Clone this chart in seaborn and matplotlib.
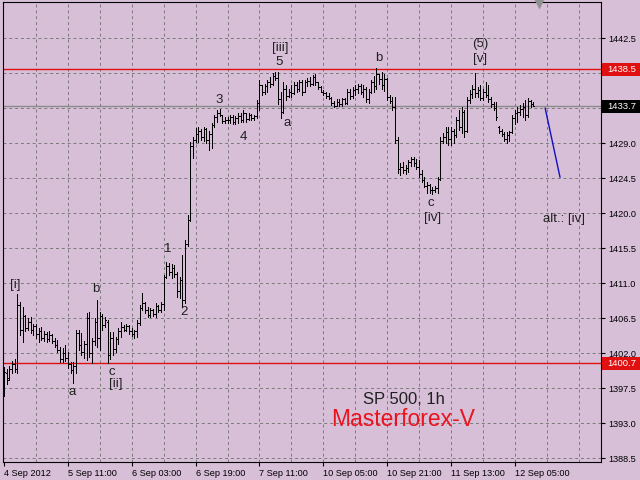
import matplotlib
matplotlib.use("Agg")
import matplotlib.pyplot as plt
import matplotlib.transforms as mtransforms
from matplotlib.patches import Rectangle
import pandas as pd
import seaborn as sns

# hourly OHLC bars, SP 500, 4-12 Sep 2012
bar_open = [
    1397.0, 1399.5, 1398.8, 1400.0, 1400.6, 1400.0, 1408.2, 1405.0, 1406.8, 1405.2,
    1406.0, 1405.0, 1405.5, 1404.4, 1404.8, 1404.0, 1404.5, 1403.8, 1404.3, 1403.6,
    1403.0, 1402.4, 1401.2, 1402.0, 1401.4, 1400.6, 1399.8, 1400.3, 1404.6, 1403.0,
    1402.2, 1403.2, 1406.5, 1402.0, 1403.6, 1406.0, 1404.0, 1406.8, 1405.6, 1406.0,
    1401.8, 1404.0, 1402.5, 1403.8, 1404.8, 1405.4, 1405.0, 1405.5, 1404.8, 1404.5,
    1404.8, 1405.9, 1407.8, 1408.4, 1407.6, 1406.9, 1407.5, 1407.0, 1408.0, 1407.6,
    1408.3, 1411.8, 1413.2, 1412.4, 1413.0, 1412.2, 1410.0, 1411.4, 1408.8, 1416.0,
    1419.1, 1428.6, 1429.4, 1430.2, 1430.6, 1429.8, 1430.8, 1429.4, 1430.2, 1431.3,
    1432.3, 1432.9, 1432.6, 1431.8, 1432.0, 1431.9, 1432.3, 1431.7, 1432.2, 1432.5,
    1432.0, 1432.8, 1432.1, 1432.6, 1432.2, 1432.5, 1434.2, 1436.4, 1435.6, 1436.3,
    1436.8, 1436.6, 1437.6, 1437.4, 1434.6, 1433.0, 1436.0, 1435.0, 1435.6, 1435.4,
    1436.4, 1435.9, 1436.8, 1435.6, 1436.8, 1437.0, 1436.6, 1437.5, 1436.8, 1436.2,
    1435.6, 1435.4, 1435.0, 1434.8, 1434.1, 1433.8, 1434.3, 1434.0, 1434.6, 1434.2,
    1435.6, 1435.0, 1435.8, 1436.0, 1436.3, 1435.6, 1436.0, 1434.7, 1435.6, 1436.8,
    1436.3, 1437.9, 1437.2, 1436.5, 1437.2, 1434.9, 1434.4, 1433.6, 1429.4, 1425.6,
    1425.9, 1425.5, 1425.8, 1426.5, 1426.9, 1426.4, 1425.9, 1425.0, 1424.3, 1423.5,
    1423.6, 1423.0, 1422.9, 1423.2, 1424.4, 1429.2, 1429.8, 1430.4, 1429.5, 1430.6,
    1430.0, 1432.0, 1431.0, 1433.0, 1430.5, 1434.5, 1435.3, 1436.0, 1435.4, 1435.8,
    1434.8, 1435.6, 1435.2, 1434.6, 1434.0, 1433.5, 1431.1, 1430.6, 1430.2, 1429.5,
    1430.0, 1430.4, 1432.2, 1432.8, 1433.0, 1433.4, 1433.6, 1432.6, 1434.4, 1434.0,
]
bar_high = [
    1400.2, 1399.9, 1400.4, 1401.0, 1401.3, 1409.6, 1408.6, 1407.9, 1406.9, 1406.5,
    1406.6, 1405.8, 1405.7, 1405.2, 1405.3, 1404.8, 1404.7, 1404.8, 1404.4, 1403.9,
    1403.7, 1402.8, 1402.6, 1403.0, 1402.2, 1400.9, 1400.8, 1405.0, 1405.0, 1404.6,
    1403.5, 1407.2, 1407.3, 1404.0, 1406.5, 1408.8, 1407.3, 1407.0, 1406.6, 1406.2,
    1404.7, 1404.7, 1404.1, 1405.2, 1406.0, 1405.6, 1405.8, 1405.6, 1405.2, 1405.0,
    1406.2, 1408.2, 1409.7, 1408.6, 1407.9, 1407.8, 1407.7, 1408.4, 1408.2, 1408.6,
    1412.0, 1413.7, 1413.6, 1413.5, 1413.3, 1412.4, 1411.8, 1414.6, 1416.5, 1419.8,
    1429.1, 1429.8, 1430.9, 1431.1, 1430.8, 1431.1, 1430.9, 1430.6, 1431.6, 1432.6,
    1433.2, 1433.4, 1432.6, 1432.3, 1432.4, 1432.6, 1432.6, 1432.5, 1432.8, 1432.9,
    1433.2, 1432.9, 1432.8, 1432.7, 1432.6, 1434.5, 1437.1, 1436.5, 1436.6, 1437.1,
    1437.5, 1438.0, 1438.1, 1438.1, 1435.6, 1436.8, 1436.4, 1436.0, 1436.4, 1436.8,
    1436.9, 1437.1, 1437.1, 1437.1, 1437.4, 1437.5, 1437.8, 1437.9, 1436.9, 1436.3,
    1435.8, 1435.5, 1435.4, 1434.9, 1434.4, 1434.6, 1434.7, 1434.8, 1434.8, 1436.0,
    1436.0, 1436.2, 1436.4, 1436.6, 1436.6, 1436.4, 1436.2, 1436.0, 1437.1, 1437.6,
    1438.6, 1437.9, 1438.1, 1437.9, 1437.4, 1435.2, 1434.9, 1434.9, 1429.8, 1426.4,
    1426.6, 1426.2, 1426.8, 1427.2, 1427.2, 1427.0, 1426.8, 1425.5, 1424.6, 1424.0,
    1423.7, 1423.4, 1423.5, 1424.6, 1429.8, 1430.3, 1431.1, 1431.1, 1431.0, 1430.8,
    1432.3, 1433.2, 1433.6, 1433.2, 1434.9, 1435.8, 1436.4, 1438.0, 1436.2, 1436.4,
    1436.0, 1436.8, 1436.4, 1434.9, 1434.3, 1434.3, 1431.2, 1430.8, 1430.4, 1430.4,
    1430.6, 1432.6, 1433.2, 1433.6, 1433.9, 1434.1, 1434.5, 1434.8, 1434.5, 1434.3,
]
bar_low = [
    1396.5, 1398.0, 1398.6, 1399.5, 1399.6, 1399.4, 1404.3, 1403.4, 1404.8, 1405.0,
    1404.6, 1404.3, 1404.0, 1403.4, 1403.7, 1403.5, 1403.4, 1403.6, 1403.3, 1402.8,
    1402.1, 1400.8, 1400.9, 1401.0, 1400.1, 1399.4, 1398.1, 1399.4, 1402.4, 1401.8,
    1401.4, 1401.1, 1401.5, 1400.7, 1403.0, 1402.8, 1402.4, 1405.0, 1405.3, 1400.7,
    1401.2, 1401.7, 1402.1, 1403.2, 1404.1, 1404.8, 1404.8, 1404.5, 1404.2, 1404.0,
    1404.1, 1405.6, 1407.5, 1407.2, 1406.6, 1406.6, 1406.8, 1406.6, 1407.3, 1407.3,
    1407.5, 1411.6, 1412.0, 1411.6, 1411.8, 1409.2, 1409.1, 1407.9, 1408.5, 1415.8,
    1419.0, 1427.1, 1429.1, 1429.1, 1429.4, 1429.2, 1429.0, 1428.1, 1428.3, 1431.1,
    1431.7, 1432.5, 1431.6, 1431.6, 1431.6, 1431.6, 1431.4, 1431.5, 1431.6, 1431.7,
    1431.7, 1431.7, 1431.9, 1431.9, 1431.9, 1432.2, 1433.2, 1435.2, 1435.3, 1435.6,
    1436.2, 1436.5, 1437.1, 1434.0, 1432.2, 1432.9, 1434.5, 1434.9, 1434.9, 1435.3,
    1435.6, 1435.7, 1435.2, 1435.5, 1436.3, 1436.3, 1436.5, 1436.5, 1436.0, 1435.5,
    1435.2, 1434.8, 1434.6, 1433.9, 1433.6, 1433.7, 1433.8, 1433.8, 1434.0, 1434.0,
    1434.6, 1434.8, 1435.2, 1435.4, 1435.3, 1434.9, 1434.3, 1434.2, 1435.4, 1435.6,
    1436.0, 1436.6, 1435.9, 1435.7, 1434.5, 1434.1, 1433.3, 1429.0, 1425.1, 1424.9,
    1425.1, 1425.0, 1425.3, 1426.0, 1426.1, 1425.6, 1424.6, 1424.0, 1423.3, 1422.6,
    1422.6, 1422.5, 1422.7, 1422.6, 1424.3, 1429.0, 1429.0, 1428.8, 1428.8, 1429.0,
    1429.8, 1430.7, 1430.3, 1429.8, 1430.4, 1434.1, 1434.8, 1434.9, 1434.9, 1434.5,
    1434.5, 1434.9, 1434.3, 1433.6, 1433.2, 1432.0, 1430.3, 1429.9, 1429.2, 1429.0,
    1429.2, 1430.3, 1431.5, 1431.7, 1432.6, 1432.3, 1432.0, 1432.4, 1433.6, 1433.7,
]
bar_close = [
    1399.6, 1398.6, 1400.0, 1400.6, 1400.0, 1408.2, 1405.0, 1406.8, 1405.2, 1406.0,
    1405.0, 1405.5, 1404.4, 1404.8, 1404.0, 1404.5, 1403.8, 1404.3, 1403.6, 1403.0,
    1402.4, 1401.2, 1402.0, 1401.4, 1400.6, 1399.8, 1400.3, 1404.6, 1403.0, 1402.2,
    1403.2, 1406.5, 1402.0, 1403.6, 1406.0, 1404.0, 1406.8, 1405.6, 1406.2, 1401.8,
    1404.0, 1402.5, 1403.8, 1404.8, 1405.4, 1405.0, 1405.5, 1404.8, 1404.5, 1404.8,
    1405.9, 1407.8, 1408.4, 1407.6, 1406.9, 1407.5, 1407.0, 1408.0, 1407.6, 1408.3,
    1411.8, 1413.2, 1412.4, 1413.0, 1412.2, 1410.0, 1411.4, 1408.8, 1416.0, 1419.1,
    1428.6, 1429.4, 1430.2, 1430.6, 1429.8, 1430.8, 1429.4, 1430.2, 1431.3, 1432.3,
    1432.9, 1432.6, 1431.8, 1432.0, 1431.9, 1432.3, 1431.7, 1432.2, 1432.5, 1432.0,
    1432.8, 1432.1, 1432.6, 1432.2, 1432.5, 1434.2, 1436.4, 1435.6, 1436.3, 1436.8,
    1436.6, 1437.6, 1437.4, 1434.6, 1433.0, 1436.0, 1435.0, 1435.6, 1435.4, 1436.4,
    1435.9, 1436.8, 1435.6, 1436.8, 1437.0, 1436.6, 1437.5, 1436.8, 1436.2, 1435.6,
    1435.4, 1435.0, 1434.8, 1434.1, 1433.8, 1434.3, 1434.0, 1434.6, 1434.2, 1435.6,
    1435.0, 1435.8, 1436.0, 1436.3, 1435.6, 1436.0, 1434.7, 1435.6, 1436.8, 1436.3,
    1437.9, 1437.2, 1436.5, 1437.2, 1434.9, 1434.4, 1433.6, 1429.4, 1425.6, 1425.9,
    1425.5, 1425.8, 1426.5, 1426.9, 1426.4, 1425.9, 1425.0, 1424.3, 1423.5, 1423.6,
    1423.0, 1422.9, 1423.2, 1424.4, 1429.2, 1429.8, 1430.4, 1429.5, 1430.6, 1430.0,
    1432.0, 1431.0, 1433.0, 1430.5, 1434.5, 1435.3, 1436.0, 1435.4, 1435.8, 1434.8,
    1435.6, 1435.2, 1434.6, 1434.0, 1433.5, 1432.4, 1430.6, 1430.2, 1429.5, 1430.0,
    1430.4, 1432.2, 1432.8, 1433.0, 1433.4, 1433.6, 1432.6, 1434.4, 1434.0, 1433.7,
]

# time axis labels, one every 24 bars
date_labels = ["4 Sep 2012", "5 Sep 11:00", "6 Sep 03:00", "6 Sep 19:00", "7 Sep 11:00",
               "10 Sep 05:00", "10 Sep 21:00", "11 Sep 13:00", "12 Sep 05:00"]
label_step = 24

price_ticks = [1388.5, 1393.0, 1397.5, 1402.0, 1406.5, 1411.0, 1415.5,
               1420.0, 1424.5, 1429.0, 1433.5, 1438.0, 1442.5]

level_top = 1438.5
level_bottom = 1400.7
last_price = 1433.7

# elliott wave marks: text, bar position, price
wave_text = ["[i]", "a", "b", "c", "[ii]", "1", "2", "3", "4", "[iii]", "5", "a",
             "b", "c", "[iv]", "(5)", "[v]", "alt.: [iv]"]
wave_bar = [4.3, 25.6, 34.6, 40.6, 42.1, 61.7, 67.7, 80.8, 89.8, 103.8, 103.4, 106.4,
            141.0, 160.5, 160.9, 179.0, 179.0, 210.5]
wave_price = [1410.7, 1397.0, 1410.2, 1399.6, 1398.0, 1415.4, 1407.3, 1434.5, 1429.8,
              1441.2, 1439.4, 1431.6, 1439.9, 1421.3, 1419.4, 1441.7, 1439.8, 1419.2]

# projected move
proj_bar = [203.4, 209.0]
proj_price = [1433.5, 1424.6]

bg = "#D8BFD8"
sns.set_theme(style="ticks", rc={
    "axes.facecolor": bg, "figure.facecolor": bg,
    "axes.edgecolor": "black", "axes.linewidth": 0.8,
    "xtick.color": "black", "ytick.color": "black",
})
plt.rcParams["font.family"] = ["Liberation Sans", "DejaVu Sans"]

df = pd.DataFrame({"open": bar_open, "high": bar_high, "low": bar_low, "close": bar_close})
df["bar"] = range(len(df))

fig = plt.figure(figsize=(6.4, 4.8), dpi=100)
ax = fig.add_axes([3 / 640, 18 / 480, 598 / 640, 460 / 480])

ax.set_xlim(-0.4, 224.4)
ax.set_ylim(1388.0, 1447.13)

# dashed grid
for p in price_ticks:
    ax.axhline(p, color="#7a7a7a", lw=0.7, ls=(0, (3, 3)), zorder=1)
for b in range(12, 224, 12):
    ax.axvline(b, color="#7a7a7a", lw=0.7, ls=(0, (3, 3)), zorder=1)

# horizontal levels
ax.axhline(level_top, color="#e01010", lw=1.0, zorder=2)
ax.axhline(level_bottom, color="#e01010", lw=1.0, zorder=2)
ax.axhline(last_price, color="#8a8a8a", lw=1.0, zorder=2)

# OHLC bars
bar_lw = 0.72
ax.vlines(df["bar"], df["low"], df["high"], color="black", lw=bar_lw, antialiased=False, zorder=3)
ax.hlines(df["open"], df["bar"] - 0.38, df["bar"], color="black", lw=bar_lw, antialiased=False, zorder=3)
ax.hlines(df["close"], df["bar"], df["bar"] + 0.38, color="black", lw=bar_lw, antialiased=False, zorder=3)

sns.lineplot(x=proj_bar, y=proj_price, color="#1010c0", lw=1.0, ax=ax, zorder=4)

for t, b, p in zip(wave_text, wave_bar, wave_price):
    ax.text(b, p, t, ha="center", va="center", fontsize=9.5, color="#202020", zorder=5)

ax.text(150.5, 1396.0, "SP 500, 1h", ha="center", va="center", fontsize=12, color="#202020")
ax.text(150.0, 1393.4, "Masterforex-V", ha="center", va="center", fontsize=16.5, color="#e8141e")

# axes styling; the two labels under the price tags stay hidden
ax.yaxis.tick_right()
ax.set_yticks(price_ticks)
ax.set_yticklabels(["" if p in (1433.5, 1438.0) else f"{p:.1f}" for p in price_ticks])
ax.set_xticks([i * label_step for i in range(len(date_labels))])
ax.set_xticklabels(date_labels, ha="left")
ax.tick_params(axis="both", labelsize=6.6, length=3, width=0.8, pad=2)
for s in ax.spines.values():
    s.set_visible(True)
    s.set_color("black")
ax.set_xlabel("")
ax.set_ylabel("")

# price tags on the right scale
trans = mtransforms.blended_transform_factory(ax.transAxes, ax.transData)
tags = [(level_top, "#e01010"), (last_price, "black"), (level_bottom, "#e01010")]
for p, c in tags:
    ax.add_patch(Rectangle((1.002, p - 0.82), 0.066, 1.64, transform=trans,
                           facecolor=c, edgecolor="none", clip_on=False, zorder=6))
    ax.text(1.035, p, f"{p:.1f}", transform=trans, ha="center", va="center",
            fontsize=6.8, color="white", clip_on=False, zorder=7)

# chart shift marker
ax.plot([201], [0.995], transform=mtransforms.blended_transform_factory(ax.transData, ax.transAxes),
        marker="v", ms=7, color="#909090", mec="none", clip_on=False, zorder=6)

fig.savefig("out.png", dpi=100, facecolor=bg)
